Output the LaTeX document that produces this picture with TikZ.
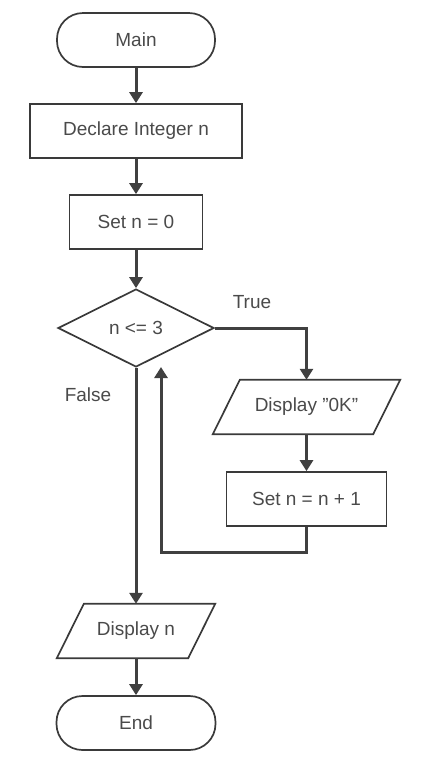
\documentclass[tikz,border=0pt]{standalone}
\usepackage{fontspec}
\setmainfont{Liberation Sans}
\usetikzlibrary{arrows.meta,shapes.geometric}
\definecolor{linec}{HTML}{404040}
\definecolor{boxc}{HTML}{3A3A3A}
\definecolor{txtc}{HTML}{4A4A4A}
\tikzset{
  base/.style={inner sep=0pt, text=txtc, font=\fontsize{19}{22}\selectfont},
  boxed/.style={base, draw=boxc, line width=1.7pt, minimum height=54pt},
  term/.style={boxed, rounded corners=26pt},
  procbox/.style={boxed},
  decision/.style={base, draw=boxc, line width=1.7pt, diamond, minimum width=156pt, minimum height=78pt},
  iobox/.style={base, minimum height=54pt},
  para/.style={draw=boxc, line width=1.7pt},
  flow/.style={draw=linec, line width=3pt, -{Triangle[width=13pt,length=11pt]}},
  lbl/.style={base}
}
\begin{document}
\begin{tikzpicture}[x=1pt,y=-1pt]
\useasboundingbox (0,0) rectangle (422,772);
\node[term, minimum width=158pt] (main) at (136,40) {Main};
\node[procbox, minimum width=212pt] (decl) at (136,131) {Declare Integer n};
\node[procbox, minimum width=133pt] (set0) at (136,222) {Set n = 0};
\node[decision] (dec) at (136,328) {n <= 3};
\node[iobox, minimum width=160pt] (ok) at (306.5,407) {Display "0K"};
\node[procbox, minimum width=160pt] (inc) at (306.5,499) {Set n = n + 1};
\node[iobox, minimum width=131pt] (dispn) at (136,631) {Display n};
\node[term, minimum width=159pt] (end) at (136,723) {End};
\draw[para] ([xshift=13.5pt]ok.north west) -- ([xshift=13.5pt]ok.north east) -- ([xshift=-13.5pt]ok.south east) -- ([xshift=-13.5pt]ok.south west) -- cycle;
\draw[para] ([xshift=13.5pt]dispn.north west) -- ([xshift=13.5pt]dispn.north east) -- ([xshift=-13.5pt]dispn.south east) -- ([xshift=-13.5pt]dispn.south west) -- cycle;
\node[lbl] (truel) at (252,302) {True};
\node[lbl] (falsel) at (88,395) {False};
\coordinate (lb) at (161,552);
\coordinate (lt) at (161,367);
\draw[flow] (main.south) -- (decl.north);
\draw[flow] (decl.south) -- (set0.north);
\draw[flow] (set0.south) -- (dec.north);
\draw[flow] (dec.east) -| (ok.north);
\draw[flow] (ok.south) -- (inc.north);
\draw[flow] (inc.south) |- (lb) -- (lt);
\draw[flow] (dec.south) -- (dispn.north);
\draw[flow] (dispn.south) -- (end.north);
\end{tikzpicture}
\end{document}
